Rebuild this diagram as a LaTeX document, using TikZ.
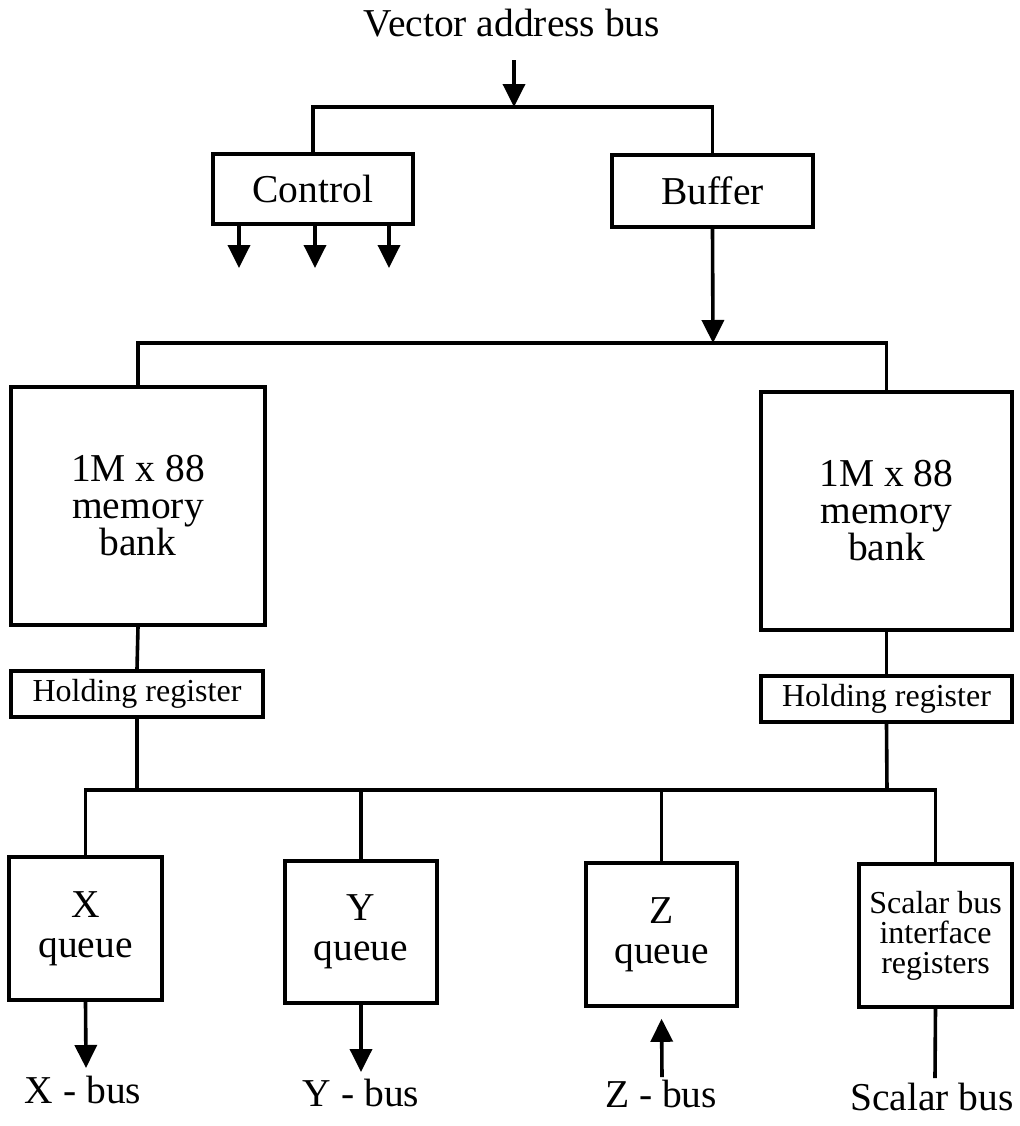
\documentclass[tikz,border=0pt]{standalone}
\usepackage{fontspec}
\setmainfont{Liberation Serif}
\usetikzlibrary{arrows.meta}
\begin{document}
\begin{tikzpicture}[x=0.5pt,y=-0.5pt,
  wire/.style={line width=1.8pt},
  flow/.style={wire,-{Triangle[length=11.5pt,width=11pt]}},
  box/.style={draw,line width=1.8pt,inner sep=0pt,align=center},
  big/.style={font=\fontsize{19.75}{17.5}\selectfont},
  banktext/.style={font=\fontsize{19.75}{18.5}\selectfont},
  queuetext/.style={font=\fontsize{19.75}{20}\selectfont},
  small/.style={font=\fontsize{16}{15}\selectfont},
]
\useasboundingbox (0,0) rectangle (1019,1126);
\fill[white] (0,0) rectangle (1019,1126);

% address input and first split
\node[big,anchor=base] (title) at (512,36) {Vector address bus};
\coordinate (vin) at (514,60);
\coordinate (topbus) at (514,107);
\node[box,big,minimum width=100pt,minimum height=35pt] (ctrl) at (313,189) {Control};
\node[box,big,minimum width=100.5pt,minimum height=36pt] (buf) at (712.5,191) {Buffer};
\draw[flow] (vin) -- (topbus);
\draw[wire] (ctrl.north) |- (topbus) -| (buf.north);

% control outputs
\coordinate (c1) at (239,268);
\coordinate (c2) at (315,268);
\coordinate (c3) at (389,268);
\foreach \c in {c1,c2,c3}
  \draw[flow] (ctrl.south -| \c) -- (\c);

% memory banks
\coordinate (midbus) at (713,343);
\node[box,banktext,minimum width=127pt,minimum height=119pt] (memL) at (138,506) {1M x 88\\memory\\bank};
\node[box,banktext,minimum width=125.5pt,minimum height=119pt] (memR) at (886.5,511) {1M x 88\\memory\\bank};
\draw[flow] (buf.south) -- (midbus);
\draw[wire] (memL.north) |- (midbus) -| (memR.north);

% holding registers
\node[box,small,minimum width=126pt,minimum height=23pt] (holdL) at (137,694) {Holding register};
\node[box,small,minimum width=125.5pt,minimum height=23pt] (holdR) at (886.5,699) {Holding register};
\draw[wire] (memL.south) -- (holdL.north);
\draw[wire] (memR.south) -- (holdR.north);

% queues
\node[box,queuetext,minimum width=76.5pt,minimum height=71.5pt] (xq) at (85.5,928.5) {X\\queue};
\node[box,queuetext,minimum width=76pt,minimum height=71pt] (yq) at (361,932) {Y\\queue};
\node[box,queuetext,minimum width=75.5pt,minimum height=71.5pt] (zq) at (661.5,934.5) {Z\\queue};
\node[box,small,minimum width=76.5pt,minimum height=71.5pt] (sq) at (935.5,935.5) {Scalar bus\\interface\\registers};

% distribution bus
\coordinate (bl) at (137,790);
\coordinate (br) at (887,790);
\draw[wire] (holdL.south) -- (bl);
\draw[wire] (holdR.south) -- (br);
\draw[wire] (xq.north) |- (bl) -- (br) -| (sq.north);
\draw[wire] (yq.north) -- (yq.north |- bl);
\draw[wire] (zq.north) -- (zq.north |- bl);

% external buses
\node[big,anchor=base] (xbus) at (83,1103) {X - bus};
\node[big,anchor=base] (ybus) at (361,1106) {Y - bus};
\node[big,anchor=base] (zbus) at (661,1107) {Z - bus};
\node[big,anchor=base] (sbus) at (932,1110) {Scalar bus};
\coordinate (xend) at (86,1068);
\coordinate (yend) at (361,1072);
\coordinate (zstart) at (662,1077);
\coordinate (send) at (935,1078);
\draw[flow] (xq.south) -- (xend);
\draw[flow] (yq.south) -- (yend);
\draw[flow,shorten >=5.5pt] (zstart) -- (zq.south);
\draw[wire] (sq.south) -- (send);
\end{tikzpicture}
\end{document}
